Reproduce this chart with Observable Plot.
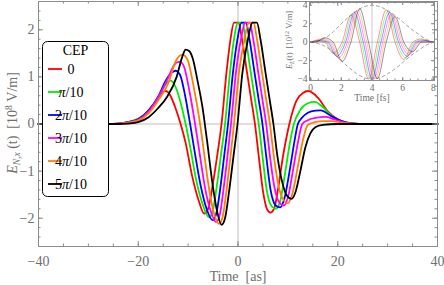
<!DOCTYPE html>
<html><head><meta charset="utf-8">
<script src="https://cdn.jsdelivr.net/npm/d3@7"></script>
<script src="https://cdn.jsdelivr.net/npm/@observablehq/plot@0.6"></script>
<style>
body{margin:0;background:#fff;}
#wrap{position:relative;width:444px;height:285px;font-family:"Liberation Serif","Times New Roman",serif;}
#wrap svg{position:absolute;top:0;overflow:visible;}
</style></head><body><div id="wrap"></div>
<script>
// ---- categories / labels ----
const cepLabels = ["0","π/10","2π/10","3π/10","4π/10","5π/10"];
const cepColors = ["#ff0000","#00ee00","#0000ff","#ff00ff","#ff8000","#000000"];
const xTicksMain = [-40,-20,0,20,40];
const yTicksMain = [-2,-1,0,1,2];
const xTicksInset = [0,2,4,6,8];
const yTicksInset = [-4,-2,0,2,4];

// ---- main panel: E_N,x(t) [1e8 V/m] vs time [as] ----
const cep0 = [[-40,0],[-26,0],[-24,0.01],[-22,0.04],[-20,0.11],[-18,0.27],[-16.5,0.48],[-15.5,0.64],[-15.0,0.69],[-14.5,0.70],[-14.0,0.67],[-13.5,0.59],[-12.5,0.33],[-11.5,0],[-10.5,-0.4],[-9.2,-1.1],[-7.9,-1.62],[-6.8,-1.9],[-6.0,-1.8],[-5.0,-1.25],[-4.1,-0.62],[-3.3,0],[-2.3,1.1],[-1.5,1.8],[-0.8,2.15],[0.1,2.15],[0.8,1.8],[1.8,1.1],[2.6,0.55],[3.4,0],[4.2,-0.72],[5.0,-1.42],[5.8,-1.8],[6.5,-1.88],[7.3,-1.78],[8.0,-1.4],[9.0,-0.7],[10.3,0],[11.7,0.49],[13.0,0.66],[14.1,0.70],[16.0,0.56],[18.0,0.27],[20.0,0.1],[22.5,0.02],[26,0],[40,0]];
const cep1 = [[-40,0],[-26,0],[-24,0.01],[-22,0.04],[-20,0.11],[-18,0.28],[-16,0.55],[-14.5,0.84],[-14.0,0.9],[-13.5,0.92],[-13.0,0.88],[-12.5,0.78],[-11.5,0.45],[-10.5,0],[-9.6,-0.48],[-8.4,-1.18],[-7.1,-1.7],[-5.8,-1.98],[-5.1,-1.86],[-4.2,-1.28],[-3.4,-0.64],[-2.6,0],[-1.6,1.1],[-0.8,1.8],[-0.05,2.15],[0.85,2.15],[1.55,1.8],[2.55,1.1],[3.35,0.55],[4.15,0],[4.95,-0.72],[5.75,-1.4],[6.7,-1.74],[7.6,-1.8],[8.5,-1.62],[9.5,-1.0],[10.4,-0.4],[11.2,0],[12.5,0.3],[14.0,0.44],[15.4,0.47],[17.0,0.36],[19.0,0.15],[21.0,0.05],[24,0],[40,0]];
const cep2 = [[-40,0],[-26,0],[-24,0.01],[-22,0.04],[-20,0.1],[-18,0.28],[-16,0.58],[-14.5,0.92],[-13.5,1.07],[-13.0,1.11],[-12.5,1.13],[-12.0,1.1],[-11.5,1.01],[-10.6,0.6],[-9.6,0],[-8.7,-0.58],[-7.5,-1.3],[-6.3,-1.8],[-5.1,-2.04],[-4.4,-1.92],[-3.5,-1.32],[-2.75,-0.66],[-2.0,0],[-1.0,1.1],[-0.1,1.8],[0.7,2.15],[1.6,2.15],[2.3,1.8],[3.3,1.1],[4.1,0.55],[4.9,0],[5.7,-0.72],[6.5,-1.38],[7.5,-1.72],[8.45,-1.77],[9.3,-1.58],[10.5,-0.9],[11.3,-0.38],[12.0,0],[12.8,0.13],[14.0,0.24],[15.5,0.285],[16.6,0.29],[18.5,0.18],[20.5,0.07],[23,0.01],[26,0],[40,0]];
const cep3 = [[-40,0],[-26,0],[-24,0.01],[-22,0.035],[-20,0.09],[-18,0.26],[-16,0.57],[-14,0.98],[-12.8,1.25],[-12.2,1.31],[-11.7,1.32],[-11.2,1.29],[-10.8,1.21],[-9.7,0.68],[-8.6,0],[-7.7,-0.62],[-6.6,-1.36],[-5.5,-1.84],[-4.4,-2.08],[-3.7,-1.95],[-2.85,-1.34],[-2.1,-0.67],[-1.4,0],[-0.4,1.1],[0.6,1.8],[1.45,2.15],[2.35,2.15],[3.05,1.8],[4.05,1.1],[4.85,0.55],[5.65,0],[6.45,-0.72],[7.3,-1.34],[8.25,-1.66],[9.2,-1.73],[10.1,-1.52],[11.0,-1.0],[12.0,-0.4],[12.9,0],[13.8,0.07],[15.5,0.13],[17.7,0.15],[19.5,0.09],[21.5,0.03],[24,0],[40,0]];
const cep4 = [[-40,0],[-26,0],[-24,0.005],[-22,0.03],[-20,0.07],[-18,0.22],[-16,0.5],[-14,0.86],[-12.5,1.33],[-11.8,1.44],[-11.1,1.47],[-10.6,1.44],[-10.1,1.36],[-8.9,0.8],[-7.6,0],[-6.8,-0.62],[-5.8,-1.38],[-4.8,-1.9],[-3.8,-2.12],[-3.1,-1.98],[-2.25,-1.36],[-1.5,-0.68],[-0.8,0],[0.2,1.1],[1.3,1.8],[2.2,2.15],[3.1,2.15],[3.8,1.8],[4.8,1.1],[5.6,0.55],[6.4,0],[7.2,-0.7],[8.1,-1.3],[9.05,-1.6],[10.0,-1.68],[10.9,-1.48],[12.0,-0.9],[13.0,-0.35],[14.0,-0.02],[15.5,0.04],[17.0,0.06],[18.7,0.06],[21,0.025],[24,0],[40,0]];
const cep5 = [[-40,0],[-24,0],[-22,0.01],[-20,0.04],[-18,0.14],[-16,0.34],[-14.2,0.58],[-12.3,1.0],[-11.2,1.42],[-10.5,1.58],[-9.8,1.55],[-9.1,1.4],[-8.1,0.91],[-7.1,0.34],[-6.65,0],[-6.2,-0.36],[-5.2,-1.2],[-4.2,-1.85],[-3.3,-2.14],[-2.6,-2.0],[-1.7,-1.36],[-0.9,-0.68],[-0.1,0],[0.9,1.1],[2.0,1.8],[2.9,2.15],[3.8,2.15],[4.5,1.8],[5.5,1.1],[6.3,0.55],[7.1,0],[7.9,-0.68],[8.9,-1.25],[9.8,-1.52],[10.7,-1.59],[11.6,-1.42],[12.5,-1.0],[13.5,-0.5],[14.5,-0.2],[15.5,-0.07],[17,-0.02],[20,0],[40,0]];

// ---- inset: E_L(t) [1e12 V/m] vs time [fs] ----
const ins0 = [[0,0],[0.325,0.06],[0.9,0],[1.475,-1.2],[2.05,0],[2.625,2.94],[3.2,0],[3.775,-3.97],[4.35,0],[4.925,3.5],[5.5,0],[6.075,-1.88],[6.65,0],[7.225,0.36],[7.8,0],[8,0]];
const ins1 = [[0,0],[0.44,0.12],[1.015,0],[1.59,-1.37],[2.165,0],[2.74,3.1],[3.315,0],[3.89,-3.99],[4.465,0],[5.04,3.37],[5.615,0],[6.19,-1.71],[6.765,0],[7.34,0.27],[7.915,0],[8,0]];
const ins2 = [[0,0],[0.555,0.19],[1.13,0],[1.705,-1.54],[2.28,0],[2.855,3.24],[3.43,0],[4.005,-4.0],[4.58,0],[5.155,3.23],[5.73,0],[6.305,-1.53],[6.88,0],[7.455,0.18],[8,0]];
const ins3 = [[0,0],[0.67,0.27],[1.245,0],[1.82,-1.72],[2.395,0],[2.97,3.38],[3.545,0],[4.12,-3.99],[4.695,0],[5.27,3.09],[5.845,0],[6.42,-1.35],[6.995,0],[7.57,0.11],[8,0]];
const ins4 = [[0,0],[0.785,0.37],[1.36,0],[1.935,-1.9],[2.51,0],[3.085,3.51],[3.66,0],[4.235,-3.96],[4.81,0],[5.385,2.93],[5.96,0],[6.535,-1.18],[7.11,0],[7.685,0.06],[8,0]];
const ins5 = [[0,0],[0.325,0],[0.9,0.48],[1.475,0],[2.05,-2.08],[2.625,0],[3.2,3.62],[3.775,0],[4.35,-3.93],[4.925,0],[5.5,2.77],[6.075,0],[6.65,-1.03],[7.225,0],[7.8,0.02],[8,0]];
const envTime = [0,0.5,1,1.5,2,2.5,3,3.5,4,4.5,5,5.5,6,6.5,7,7.5,8];
const envUpper = [0,0.15,0.5,1.15,2.0,2.75,3.4,3.85,4.0,3.85,3.45,2.9,2.2,1.5,0.9,0.35,0];

// ---- build tables ----
const mainCurves = [cep0,cep1,cep2,cep3,cep4,cep5];
const insetCurves = [ins0,ins1,ins2,ins3,ins4,ins5];
const mainData = mainCurves.flatMap((pts,i)=>pts.map(([t,v])=>({t,v,cep:cepLabels[i]})));
const insetData = insetCurves.flatMap((pts,i)=>pts.map(([t,v])=>({t,v,cep:cepLabels[i]})));
const envData = envTime.flatMap((t,i)=>[{t,v:envUpper[i],side:"u"},{t,v:-envUpper[i],side:"l"}]);
const fmt = d => d < 0 ? "\u2212" + (-d) : String(d);
const range = (a,b,s)=>d3.range(a,b+s/2,s);

const FONT = "Liberation Serif, Times New Roman, serif";
const TXT = "#6e6e6e";
const FRAME = "#8c8c8c";

// main plot
const W=444,H=285, mL=38, mR=7, mT=1, mB=39;
const ph = H-mT-mB, pw = W-mL-mR;
const xMinor = range(-40,40,5), yMinor = range(-2.6,2.6,0.2).map(d=>+d.toFixed(1)).filter(d=>Math.abs(d)<=2.6);
const main = Plot.plot({
  width:W, height:H, marginLeft:mL, marginRight:mR, marginTop:mT, marginBottom:mB,
  style:{fontFamily:FONT, background:"transparent", overflow:"visible"},
  x:{domain:[-40,40], axis:null},
  y:{domain:[-2.6,2.6], axis:null},
  color:{domain:cepLabels, range:cepColors},
  marks:[
    Plot.ruleY([0],{stroke:"#bdbdbd", strokeWidth:1}),
    Plot.ruleX([0],{stroke:"#bdbdbd", strokeWidth:1}),
    Plot.line(mainData,{x:"t",y:"v",z:"cep",stroke:"cep",curve:"monotone-x",strokeWidth:1.8}),
    Plot.frame({stroke:FRAME}),
    Plot.tickX(xMinor,{x:d=>d, insetTop:ph-2.5, stroke:FRAME}),
    Plot.tickX(xTicksMain,{x:d=>d, insetTop:ph-5, stroke:FRAME}),
    Plot.tickX(xMinor,{x:d=>d, insetBottom:ph-2.5, stroke:FRAME}),
    Plot.tickX(xTicksMain,{x:d=>d, insetBottom:ph-5, stroke:FRAME}),
    Plot.tickY(yMinor,{y:d=>d, insetRight:pw-2.5, stroke:FRAME}),
    Plot.tickY(yTicksMain,{y:d=>d, insetRight:pw-5, stroke:FRAME}),
    Plot.tickY(yMinor,{y:d=>d, insetLeft:pw-2.5, stroke:FRAME}),
    Plot.tickY(yTicksMain,{y:d=>d, insetLeft:pw-5, stroke:FRAME}),
    Plot.text(xTicksMain,{x:d=>d, y:-2.6, dy:15, text:fmt, fontSize:14, fill:TXT}),
    Plot.text(yTicksMain,{x:-40, y:d=>d, dx:-4, textAnchor:"end", text:fmt, fontSize:14, fill:TXT}),
    Plot.text(["Time\u00a0\u00a0[as]"],{x:0, y:-2.6, dy:25, lineAnchor:"top", text:d=>d, fontSize:14, fill:TXT})
  ]
});
main.style.left="0px";
document.getElementById("wrap").appendChild(main);

// y axis title
const sm = d3.select(main);
const yl = sm.append("text").attr("transform","translate(17,123) rotate(-90)")
  .attr("text-anchor","middle").attr("fill",TXT).style("font-family",FONT).style("font-size","14px");
yl.append("tspan").style("font-style","italic").text("E");
yl.append("tspan").style("font-style","italic").style("font-size","9.5px").attr("dy",3).text("N,x");
yl.append("tspan").attr("dy",-3).text("\u00a0(t)\u00a0\u00a0[10");
yl.append("tspan").style("font-size","9.5px").attr("dy",-5).text("8");
yl.append("tspan").attr("dy",5).text("\u00a0V/m]");

// legend
const lg = sm.append("g").style("font-family",FONT);
lg.append("rect").attr("x",42.5).attr("y",41.5).attr("width",66).attr("height",155).attr("rx",5)
  .attr("fill","#fff").attr("stroke","#000").attr("stroke-width",1);
lg.append("text").attr("x",75.5).attr("y",55).attr("text-anchor","middle").style("font-size","14px").attr("fill","#000").text("CEP");
cepLabels.forEach((lab,i)=>{
  const y = 69 + i*23;
  lg.append("line").attr("x1",48).attr("x2",62).attr("y1",y).attr("y2",y).attr("stroke",cepColors[i]).attr("stroke-width",1.8);
  const t = lg.append("text").attr("x",71).attr("y",y+5).style("font-size","14px").attr("fill","#000");
  const m = lab.match(/^(\d*)(π)?(.*)$/);
  if (m[1]) t.append("tspan").text(m[1]);
  if (m[2]) t.append("tspan").style("font-style","italic").text("π");
  if (m[3]) t.append("tspan").text(m[3]);
});

// inset
const iW=160, iH=106, iL=26, iR=9, iT=2, iB=26;
const iph = iH-iT-iB, ipw = iW-iL-iR;
const inset = Plot.plot({
  width:iW, height:iH, marginLeft:iL, marginRight:iR, marginTop:iT, marginBottom:iB,
  style:{fontFamily:FONT, background:"transparent", overflow:"visible"},
  x:{domain:[-0.07,8.07], axis:null},
  y:{domain:[-4.15,4.3], axis:null},
  color:{domain:cepLabels, range:cepColors},
  marks:[
    Plot.ruleY([0],{stroke:"#bdbdbd", strokeWidth:0.8}),
    Plot.ruleX([4],{stroke:"#bdbdbd", strokeWidth:0.8}),
    Plot.line(envData,{x:"t",y:"v",z:"side",stroke:"#8a8a8a",strokeDasharray:"3,3",strokeWidth:0.8,curve:"monotone-x"}),
    Plot.line(insetData,{x:"t",y:"v",z:"cep",stroke:"cep",curve:"monotone-x",strokeWidth:0.7,strokeOpacity:0.6}),
    Plot.frame({stroke:FRAME}),
    Plot.tickX(range(0,8,0.5),{x:d=>d, insetTop:iph-1.5, stroke:FRAME}),
    Plot.tickX(xTicksInset,{x:d=>d, insetTop:iph-3, stroke:FRAME}),
    Plot.tickX(range(0,8,0.5),{x:d=>d, insetBottom:iph-1.5, stroke:FRAME}),
    Plot.tickX(xTicksInset,{x:d=>d, insetBottom:iph-3, stroke:FRAME}),
    Plot.tickY(range(-4,4,1),{y:d=>d, insetRight:ipw-1.5, stroke:FRAME}),
    Plot.tickY(yTicksInset,{y:d=>d, insetRight:ipw-3, stroke:FRAME}),
    Plot.tickY(range(-4,4,1),{y:d=>d, insetLeft:ipw-1.5, stroke:FRAME}),
    Plot.tickY(yTicksInset,{y:d=>d, insetLeft:ipw-3, stroke:FRAME}),
    Plot.text(xTicksInset,{x:d=>d, y:-4.15, dy:7.5, text:fmt, fontSize:9.5, fill:TXT}),
    Plot.text(yTicksInset,{x:-0.07, y:d=>d, dx:-2, textAnchor:"end", text:fmt, fontSize:9.5, fill:TXT}),
    Plot.text(["Time [fs]"],{x:4, y:-4.15, dy:17.5, text:d=>d, fontSize:9.5, fill:TXT})
  ]
});
inset.style.left="283px";
document.getElementById("wrap").appendChild(inset);
const si = d3.select(inset);
const il = si.append("text").attr("transform","translate(9,40) rotate(-90)")
  .attr("text-anchor","middle").attr("fill",TXT).style("font-family",FONT).style("font-size","8.5px");
il.append("tspan").style("font-style","italic").text("E");
il.append("tspan").style("font-style","italic").style("font-size","6px").attr("dy",2).text("L");
il.append("tspan").attr("dy",-2).text("(t)\u00a0\u00a0[10");
il.append("tspan").style("font-size","6px").attr("dy",-3).text("12");
il.append("tspan").attr("dy",3).text("\u00a0V/m]");
</script></body></html>
